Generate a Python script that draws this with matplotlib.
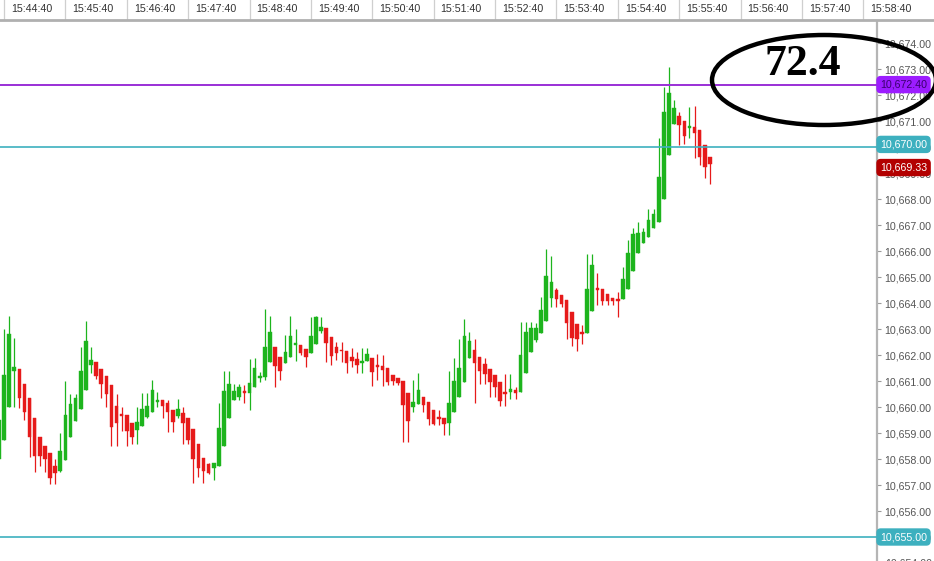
import numpy as np
import matplotlib
matplotlib.use('Agg')
import matplotlib.pyplot as plt
from matplotlib.patches import Ellipse
from matplotlib.transforms import blended_transform_factory
from matplotlib.ticker import FuncFormatter

# ---------------- data ----------------
time_labels = ['15:44:40', '15:45:40', '15:46:40', '15:47:40', '15:48:40',
               '15:49:40', '15:50:40', '15:51:40', '15:52:40', '15:53:40',
               '15:54:40', '15:55:40', '15:56:40', '15:57:40', '15:58:40']

opens = [10658.00,
    10658.75, 10660.00, 10661.40, 10661.46, 10660.88, 10660.35, 10659.58, 10658.85, 10658.50, 10658.23,
    10657.73, 10657.54, 10657.96, 10658.85, 10659.46, 10659.92, 10660.65, 10661.62, 10661.73, 10661.46,
    10661.19, 10660.85, 10660.04, 10659.72, 10659.69, 10659.38, 10659.12, 10659.27, 10659.62, 10659.81,
    10660.20, 10660.27, 10660.15, 10659.88, 10659.65, 10659.77, 10659.58, 10659.15, 10658.58, 10658.04,
    10657.81, 10657.65, 10657.73, 10658.50, 10659.58, 10660.27, 10660.38, 10660.60, 10660.54, 10660.77,
    10661.12, 10661.15, 10661.73, 10662.31, 10661.92, 10661.69, 10661.92, 10662.40, 10662.38, 10662.23,
    10662.08, 10662.42, 10662.92, 10663.04, 10662.69, 10662.31, 10662.20, 10662.15, 10661.92, 10661.85,
    10661.70, 10661.77, 10661.88, 10661.60, 10661.58, 10661.50, 10661.23, 10661.12, 10661.00, 10660.54,
    10660.00, 10660.12, 10660.38, 10660.19, 10659.88, 10659.60, 10659.58, 10659.38, 10659.81, 10660.38,
    10660.96, 10661.88, 10662.19, 10661.92, 10661.65, 10661.46, 10661.23, 10660.96, 10660.56, 10660.58,
    10660.65, 10660.58, 10661.31, 10662.12, 10662.58, 10662.85, 10663.31, 10664.19, 10664.50, 10664.31,
    10664.12, 10663.65, 10663.19, 10662.90, 10662.85, 10663.69, 10664.56, 10664.54, 10664.35, 10664.19,
    10664.14, 10664.15, 10664.54, 10665.23, 10665.92, 10666.31, 10666.54, 10666.88, 10667.12, 10668.00,
    10669.69, 10670.88, 10671.19, 10671.00, 10670.73, 10670.77, 10670.65, 10670.08, 10669.62]

highs = [10659.75,
    10663.00, 10663.50, 10662.65, 10661.46, 10660.88, 10660.35, 10659.58, 10658.85, 10658.50, 10658.23,
    10658.00, 10659.00, 10661.00, 10660.50, 10660.50, 10662.31, 10663.31, 10662.31, 10661.73, 10661.46,
    10661.19, 10660.85, 10660.50, 10660.00, 10659.69, 10659.38, 10660.00, 10660.54, 10660.54, 10661.04,
    10660.58, 10660.27, 10660.27, 10659.88, 10660.31, 10660.00, 10659.58, 10659.15, 10658.58, 10658.04,
    10657.85, 10657.85, 10660.15, 10661.38, 10661.38, 10660.88, 10660.88, 10660.85, 10661.85, 10661.88,
    10661.35, 10663.77, 10663.50, 10662.31, 10661.92, 10662.77, 10663.50, 10663.00, 10662.38, 10662.23,
    10663.46, 10663.50, 10663.46, 10663.04, 10662.69, 10662.50, 10662.50, 10662.15, 10662.27, 10662.12,
    10662.27, 10662.27, 10661.88, 10662.04, 10662.00, 10661.50, 10661.23, 10661.12, 10661.00, 10660.54,
    10661.04, 10661.31, 10660.38, 10660.19, 10659.88, 10659.88, 10659.58, 10661.38, 10661.88, 10662.62,
    10663.38, 10662.88, 10662.62, 10661.92, 10661.88, 10661.46, 10661.23, 10660.96, 10661.27, 10661.27,
    10660.77, 10663.27, 10663.27, 10663.27, 10663.23, 10664.23, 10666.08, 10665.81, 10664.58, 10664.31,
    10664.12, 10663.65, 10663.19, 10663.15, 10665.88, 10665.88, 10665.15, 10664.54, 10664.35, 10664.19,
    10664.42, 10665.38, 10666.42, 10666.88, 10667.12, 10666.88, 10667.62, 10667.62, 10670.35, 10672.31,
    10673.08, 10671.81, 10671.35, 10671.00, 10671.54, 10671.58, 10670.65, 10670.08, 10669.62]

lows = [10657.75,
    10658.75, 10660.00, 10660.00, 10659.96, 10659.50, 10658.08, 10657.50, 10657.73, 10657.50, 10657.04,
    10657.04, 10657.50, 10657.96, 10658.85, 10659.46, 10659.92, 10660.65, 10661.31, 10661.08, 10660.35,
    10660.00, 10658.50, 10658.50, 10659.08, 10658.50, 10658.58, 10658.58, 10659.27, 10659.58, 10659.81,
    10660.00, 10659.58, 10659.04, 10659.04, 10659.58, 10658.58, 10658.58, 10657.08, 10657.31, 10657.08,
    10657.42, 10657.19, 10657.73, 10658.50, 10659.58, 10660.27, 10660.27, 10660.15, 10659.88, 10660.77,
    10660.96, 10661.04, 10661.73, 10660.77, 10661.04, 10661.69, 10661.92, 10661.77, 10662.00, 10661.54,
    10662.08, 10662.42, 10662.85, 10661.73, 10661.62, 10661.81, 10661.73, 10661.31, 10661.54, 10661.31,
    10661.31, 10661.77, 10660.81, 10661.04, 10660.81, 10660.85, 10660.85, 10660.85, 10658.65, 10658.65,
    10659.81, 10660.12, 10659.81, 10659.31, 10659.31, 10659.31, 10658.92, 10658.92, 10659.81, 10660.38,
    10660.96, 10661.88, 10660.15, 10660.88, 10660.88, 10660.38, 10660.38, 10660.04, 10660.04, 10660.31,
    10660.31, 10660.58, 10661.31, 10662.12, 10662.50, 10662.85, 10663.31, 10663.85, 10663.85, 10663.85,
    10662.62, 10662.35, 10662.15, 10662.42, 10662.85, 10663.69, 10663.92, 10663.92, 10663.92, 10663.92,
    10663.46, 10664.15, 10664.54, 10665.23, 10665.92, 10666.31, 10666.54, 10666.88, 10667.12, 10668.00,
    10669.69, 10670.88, 10670.08, 10670.12, 10670.35, 10669.58, 10669.31, 10668.81, 10668.58]

closes = [10659.50,
    10661.25, 10662.80, 10661.55, 10660.35, 10659.81, 10658.85, 10658.12, 10658.12, 10658.00, 10657.27,
    10657.46, 10658.31, 10659.69, 10660.12, 10660.35, 10661.38, 10662.54, 10661.81, 10661.19, 10660.88,
    10660.50, 10659.23, 10659.38, 10659.65, 10659.08, 10658.85, 10659.42, 10659.92, 10660.04, 10660.65,
    10660.26, 10660.04, 10659.81, 10659.42, 10659.92, 10659.38, 10658.73, 10658.00, 10657.65, 10657.54,
    10657.46, 10657.85, 10659.19, 10660.62, 10660.88, 10660.62, 10660.77, 10660.55, 10660.92, 10661.50,
    10661.18, 10662.31, 10662.88, 10661.58, 10661.38, 10662.12, 10662.73, 10662.45, 10662.08, 10661.92,
    10662.73, 10663.46, 10663.08, 10662.46, 10661.96, 10662.08, 10662.15, 10661.69, 10661.77, 10661.62,
    10661.75, 10662.04, 10661.35, 10661.55, 10661.42, 10660.96, 10661.00, 10660.92, 10660.08, 10659.46,
    10660.19, 10660.65, 10660.08, 10659.54, 10659.35, 10659.55, 10659.35, 10660.15, 10661.00, 10661.50,
    10662.73, 10662.54, 10661.69, 10661.38, 10661.27, 10660.96, 10660.77, 10660.23, 10660.52, 10660.69,
    10660.54, 10662.00, 10662.88, 10663.04, 10663.04, 10663.73, 10665.04, 10664.81, 10664.15, 10663.96,
    10663.23, 10662.65, 10662.62, 10662.81, 10664.54, 10665.46, 10664.52, 10664.08, 10664.08, 10664.08,
    10664.10, 10664.92, 10665.92, 10666.65, 10666.69, 10666.73, 10667.19, 10667.42, 10668.85, 10671.35,
    10672.08, 10671.50, 10670.85, 10670.42, 10670.81, 10670.54, 10669.62, 10669.23, 10669.33]

price_ticks = list(range(10655, 10675))
level_purple = 10672.40
level_teal_hi = 10670.00
level_teal_lo = 10655.00
last_price = 10669.33
note_text = '72.4'

# ---------------- style ----------------
GREEN = '#1db41d'
RED = '#e61a1a'
PURPLE_LINE = '#9a2fd6'
PURPLE_BOX = '#9c1cff'
TEAL = '#3db0bf'
DARKRED = '#b30000'
FONT = 'Liberation Sans'

W, H = 934, 561
fig = plt.figure(figsize=(W / 100, H / 100), dpi=100)
fig.patch.set_facecolor('white')

PX = 5.115   # pixels per candle
X0 = 4       # pixel of the first full candle
AX_RIGHT = 877
TOP_H = 20

ax = fig.add_axes([0, 0, AX_RIGHT / W, (H - TOP_H) / H])
ax.set_xlim((0 - X0) / PX, (AX_RIGHT - X0) / PX)
ax.set_ylim(10654.077, 10674.885)
ax.set_facecolor('white')

o = np.array(opens); h = np.array(highs); l = np.array(lows); c = np.array(closes)
xs = np.arange(len(o)) - 1
up = c >= o
cols = np.where(up, GREEN, RED)
body_lo = np.minimum(o, c)
body_h = np.abs(c - o)
min_h = 0.07
adj = np.maximum(body_h, min_h)
body_bot = body_lo - (adj - body_h) / 2

ax.vlines(xs, l, h, colors=cols, lw=0.9, zorder=2)
ax.bar(xs, adj, bottom=body_bot, width=0.70, color=cols, edgecolor=cols, lw=0.3, zorder=3)

# level lines
ax.axhline(level_purple, color=PURPLE_LINE, lw=1.4, zorder=4)
ax.axhline(level_teal_hi, color=TEAL, lw=1.2, zorder=4)
ax.axhline(level_teal_lo, color=TEAL, lw=1.2, zorder=4)

# axes styling
for s in ['top', 'left', 'bottom']:
    ax.spines[s].set_visible(False)
ax.spines['right'].set_color('#b5b5b5')
ax.spines['right'].set_linewidth(1.6)
ax.set_xticks([])
ax.yaxis.tick_right()
ax.set_yticks(price_ticks)
ax.yaxis.set_major_formatter(FuncFormatter(lambda v, p: f'{v:,.2f}'))
ax.tick_params(axis='y', direction='out', length=3, width=0.8, color='#9a9a9a',
               labelsize=7.7, labelcolor='#555555', pad=2)
for t in ax.get_yticklabels():
    t.set_family(FONT)

trans = blended_transform_factory(ax.transAxes, ax.transData)
# partially visible bottom label
ax.text(1.0 + 8 / AX_RIGHT, 10654.0, '10,654.00', transform=trans, ha='left', va='center',
        fontsize=7.7, color='#555555', family=FONT, clip_on=False)


def level_label(y, text, fc, tc):
    ax.text(1.0 + 3 / AX_RIGHT, y, text, transform=trans, ha='left', va='center',
            fontsize=7.7, color=tc, family=FONT, clip_on=False, zorder=6,
            bbox=dict(boxstyle='round,pad=0.28,rounding_size=0.35', fc=fc, ec=fc))


level_label(level_purple, f'{level_purple:,.2f}', PURPLE_BOX, '#3a006e')
level_label(level_teal_hi + 0.1, f'{level_teal_hi:,.2f}', TEAL, 'white')
level_label(last_price - 0.12, f'{last_price:,.2f}', DARKRED, 'white')
level_label(level_teal_lo, f'{level_teal_lo:,.2f}', TEAL, 'white')

# ---------------- top time axis ----------------
axt = fig.add_axes([0, (H - TOP_H) / H, 1, TOP_H / H])
axt.set_xlim((0 - X0) / PX, (W - X0) / PX)
axt.set_ylim(0, 1)
axt.set_xticks([]); axt.set_yticks([])
for s in ['top', 'left', 'right']:
    axt.spines[s].set_visible(False)
axt.spines['bottom'].set_color('#b0b0b0')
axt.spines['bottom'].set_linewidth(2.0)
for i, lab in enumerate(time_labels):
    xi = 12 * i
    axt.axvline(xi, color='#cfcfcf', lw=0.9)
    axt.text(xi + 7 / PX, 0.55, lab, ha='left', va='center', fontsize=7.7,
             color='#333333', family=FONT)

# ---------------- overlay annotation ----------------
ov = fig.add_axes([0, 0, 1, 1], zorder=10)
ov.set_xlim(0, W); ov.set_ylim(H, 0)
ov.axis('off')
ov.patch.set_alpha(0)
ov.add_patch(Ellipse((824, 80), 224, 90, fill=False, ec='black', lw=3.2))
ov.text(803, 64, note_text, ha='center', va='center', fontsize=31.5,
        fontweight='bold', family='Liberation Serif', color='black')

fig.savefig('out.png', dpi=100, facecolor='white')
